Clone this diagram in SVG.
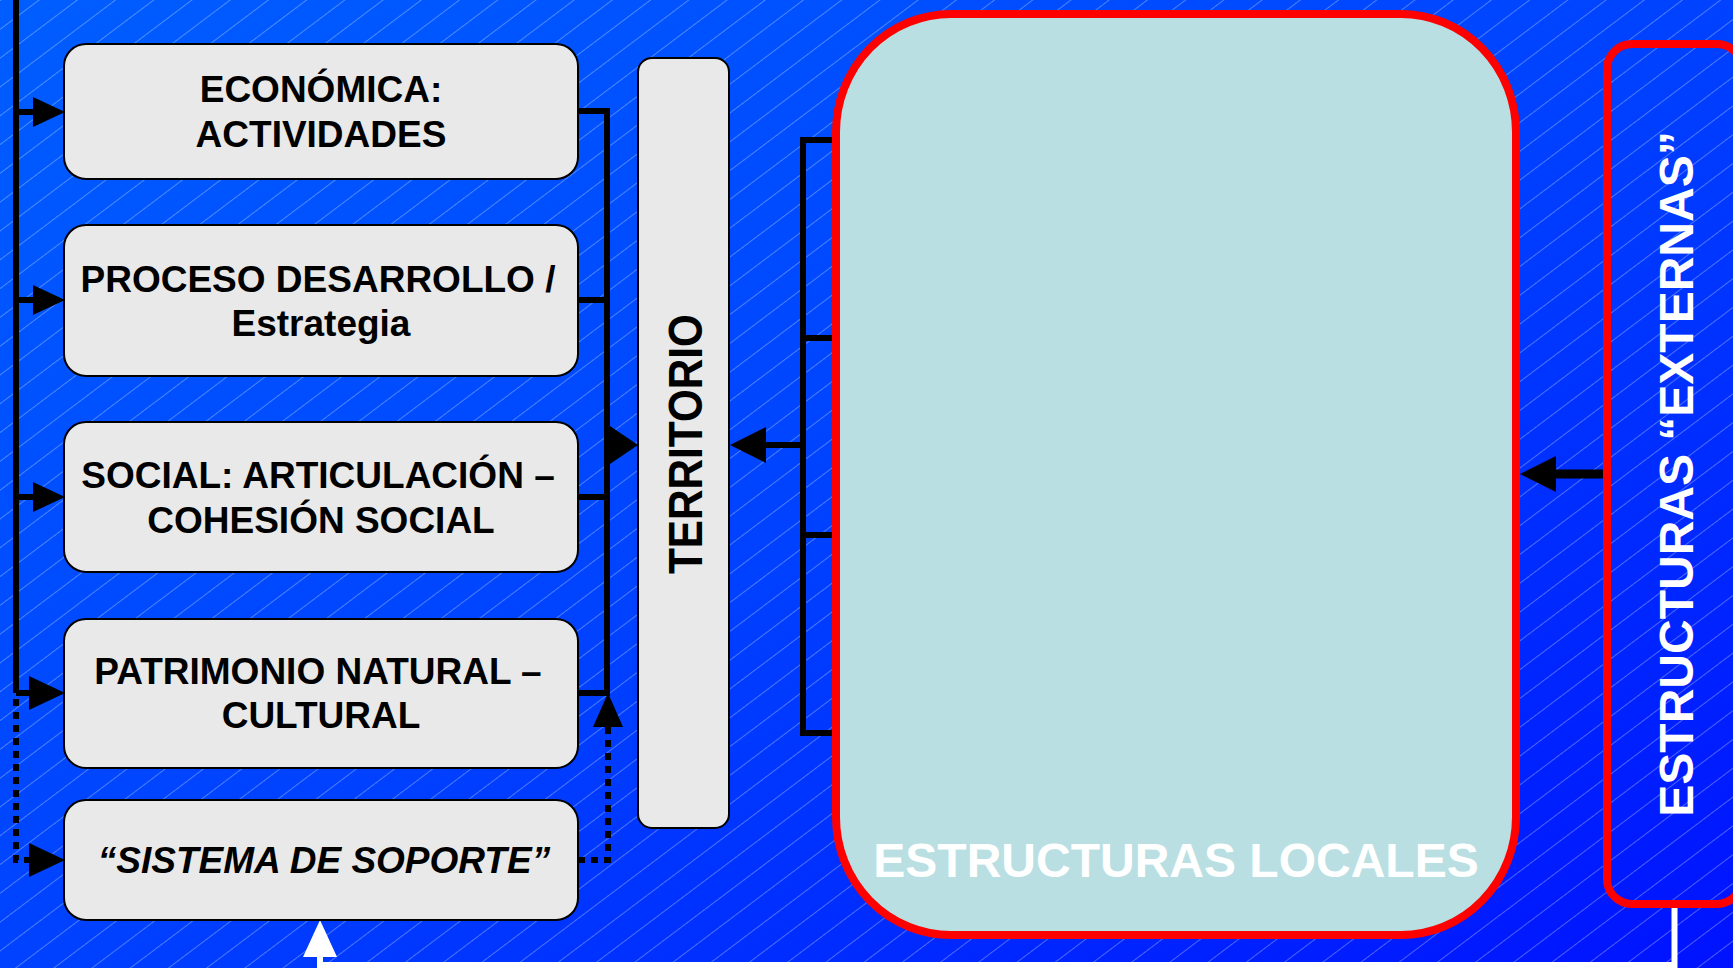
<svg xmlns="http://www.w3.org/2000/svg" width="1733" height="968" viewBox="0 0 1733 968">
<defs>
<linearGradient id="bg" x1="0" y1="0" x2="1" y2="1">
<stop offset="0" stop-color="#005EFF"/>
<stop offset="0.5" stop-color="#0042FF"/>
<stop offset="1" stop-color="#0012FF"/>
</linearGradient>
<pattern id="hatch" width="10" height="23" patternUnits="userSpaceOnUse" patternTransform="rotate(-37)">
<line x1="0" y1="0.5" x2="10" y2="0.5" stroke="#ffffff" stroke-opacity="0.3" stroke-width="1"/>
</pattern>
<style>
.box{fill:#E9E9E9;stroke:#000;stroke-width:2}
.t{font-family:"Liberation Sans",Arial,sans-serif;font-weight:bold;font-size:37px;text-anchor:middle;fill:#000}
.ti{font-style:italic}
.tv{font-size:48px}
.wt{font-family:"Liberation Sans",Arial,sans-serif;font-weight:bold;font-size:48px;text-anchor:middle;fill:#fff}
.ln{fill:none;stroke:#000;stroke-width:6}
.dot{fill:none;stroke:#000;stroke-width:6;stroke-dasharray:7 6}
.ah{fill:#000}
.red{fill:none;stroke:#FF0000;stroke-width:8}
</style>
</defs>
<rect x="0" y="0" width="1733" height="968" fill="url(#bg)"/>
<rect x="0" y="0" width="1733" height="968" fill="url(#hatch)"/>

<g id="connectors">
<path class="ln" d="M16 -5 V693 M16 112 H36 M16 300 H36 M16 497 H36 M16 693 H32"/>
<polygon class="ah" points="33,97 65,112 33,127"/>
<polygon class="ah" points="33,285 65,300 33,315"/>
<polygon class="ah" points="33,482 65,497 33,512"/>
<polygon class="ah" points="29,676 65,693 29,710"/>
<path class="dot" d="M16 699 V860 H30"/>
<polygon class="ah" points="29,843 65,860 29,877"/>
<path class="ln" d="M607 108 V696 M578 111 H607 M578 300 H607 M578 497 H607 M578 693 H607"/>
<polygon class="ah" points="607,424 638,445 607,466"/>
<path class="dot" d="M578 860 H608 V727"/>
<polygon class="ah" points="593,727 608,693 623,727"/>
<path class="ln" d="M803 137 V736 M803 140 H836 M803 338 H836 M803 535 H836 M803 733 H836 M803 445 H764"/>
<polygon class="ah" points="766,427 730,445 766,463"/>
<path fill="none" stroke="#000" stroke-width="9" d="M1604 474 H1552"/>
<polygon class="ah" points="1556,456 1520,474 1556,492"/>
<path fill="none" stroke="#fff" stroke-width="6" d="M1674.5 908 V965 H320 V950"/>
<polygon fill="#fff" points="303,957 320,920 337,957"/>
</g>

<g id="economica">
<rect class="box" x="64" y="44" width="514" height="135" rx="22"/>
<text class="t" x="321" y="102">ECONÓMICA:</text>
<text class="t" x="321" y="147">ACTIVIDADES</text>
</g>
<g id="proceso">
<rect class="box" x="64" y="225" width="514" height="151" rx="22"/>
<text class="t" x="318" y="292">PROCESO DESARROLLO /</text>
<text class="t" x="321" y="336">Estrategia</text>
</g>
<g id="social">
<rect class="box" x="64" y="422" width="514" height="150" rx="22"/>
<text class="t" x="318" y="488">SOCIAL: ARTICULACIÓN –</text>
<text class="t" x="321" y="533">COHESIÓN SOCIAL</text>
</g>
<g id="patrimonio">
<rect class="box" x="64" y="619" width="514" height="149" rx="22"/>
<text class="t" x="318" y="684">PATRIMONIO NATURAL –</text>
<text class="t" x="321" y="728">CULTURAL</text>
</g>
<g id="soporte">
<rect class="box" x="64" y="800" width="514" height="120" rx="22"/>
<text class="t ti" x="324" y="873">“SISTEMA DE SOPORTE”</text>
</g>
<g id="territorio">
<rect class="box" x="638" y="58" width="91" height="770" rx="14"/>
<text class="t tv" transform="translate(702,444) rotate(-90)" x="0" y="0" textLength="260" lengthAdjust="spacingAndGlyphs">TERRITORIO</text>
</g>
<g id="locales">
<rect x="836" y="14" width="680" height="921" rx="115" ry="118" fill="#B9DFE3" stroke="#FF0000" stroke-width="8"/>
<text class="wt" x="1176" y="877">ESTRUCTURAS LOCALES</text>
</g>
<g id="externas">
<rect class="red" x="1607" y="44" width="135" height="860" rx="25"/>
<text class="wt" transform="translate(1693,474) rotate(-90)" x="0" y="0">ESTRUCTURAS “EXTERNAS”</text>
</g>
</svg>
